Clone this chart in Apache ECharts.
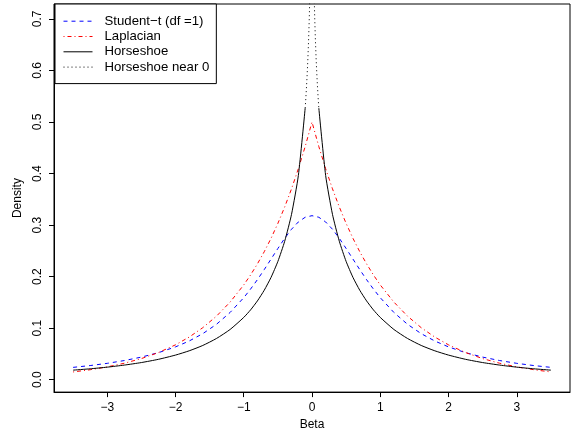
<!DOCTYPE html>
<html>
<head>
<meta charset="utf-8">
<script src="https://cdn.jsdelivr.net/npm/echarts@6/dist/echarts.min.js"></script>
<style>html,body{margin:0;padding:0;background:#fff}#c{width:574px;height:436px}</style>
</head>
<body>
<div id="c"></div>
<script>
// Beta values (shared x positions)
const betaX = [-3.5,-3.25,-3,-2.75,-2.5,-2.25,-2,-1.8,-1.6,-1.4,-1.2,-1,-0.9,-0.8,-0.7,-0.6,-0.5,-0.4,-0.3,-0.2,-0.1,0,
  0.1,0.2,0.3,0.4,0.5,0.6,0.7,0.8,0.9,1,1.2,1.4,1.6,1.8,2,2.25,2.5,2.75,3,3.25,3.5];
// Student-t (df = 1) density
const studentT = [0.0240,0.0275,0.0318,0.0372,0.0439,0.0525,0.0637,0.0751,0.0894,0.1075,0.1305,0.1592,0.1759,0.1941,0.2136,0.2341,0.2546,0.2744,0.2920,0.3061,0.3152,0.3183,
  0.3152,0.3061,0.2920,0.2744,0.2546,0.2341,0.2136,0.1941,0.1759,0.1592,0.1305,0.1075,0.0894,0.0751,0.0637,0.0525,0.0439,0.0372,0.0318,0.0275,0.0240];
// Laplacian density
const laplacian = [0.0151,0.0194,0.0249,0.0320,0.0410,0.0527,0.0677,0.0827,0.1010,0.1233,0.1506,0.1839,0.2033,0.2247,0.2483,0.2744,0.3033,0.3352,0.3704,0.4094,0.4524,0.5000,
  0.4524,0.4094,0.3704,0.3352,0.3033,0.2744,0.2483,0.2247,0.2033,0.1839,0.1506,0.1233,0.1010,0.0827,0.0677,0.0527,0.0410,0.0320,0.0249,0.0194,0.0151];
// Horseshoe density (gap at 0)
const horseshoe = [0.0186,0.0212,0.0244,0.0284,0.0333,0.0396,0.0478,0.0561,0.0665,0.0800,0.0975,0.1209,0.1355,0.1529,0.1736,0.1986,0.2295,0.2687,0.3209,0.3962,0.5270,'-',
  0.5270,0.3962,0.3209,0.2687,0.2295,0.1986,0.1736,0.1529,0.1355,0.1209,0.0975,0.0800,0.0665,0.0561,0.0478,0.0396,0.0333,0.0284,0.0244,0.0212,0.0186];
// Horseshoe near 0
const nearX = [-0.1,-0.09,-0.08,-0.07,-0.06,-0.05,-0.04,-0.03,-0.02,0,0.02,0.03,0.04,0.05,0.06,0.07,0.08,0.09,0.1];
const nearY = [0.5270,0.5470,0.5694,0.5948,0.6241,0.6588,0.7012,0.7560,0.8332,'-',0.8332,0.7560,0.7012,0.6588,0.6241,0.5948,0.5694,0.5470,0.5270];

const xTicks = [-3,-2,-1,0,1,2,3];
const xTickLabels = ['\u22123','\u22122','\u22121','0','1','2','3'];
const yTicks = [0,0.1,0.2,0.3,0.4,0.5,0.6,0.7];
const yTickLabels = ['0.0','0.1','0.2','0.3','0.4','0.5','0.6','0.7'];
const seriesNames = ['Student\u2212t (df =1)','Laplacian','Horseshoe','Horseshoe near 0'];
const seriesColors = ['#0000ff', '#ff0000', '#000000', '#000000'];
const seriesDash = [[4, 4], [1, 3, 4, 3], 'solid', [1, 3]];

const font = 'Liberation Sans, Arial, Helvetica, sans-serif';
const zip = (xs, ys) => xs.map((x, i) => [x, ys[i]]);
const style = i => ({color: seriesColors[i], width: 1, type: seriesDash[i]});

const chart = echarts.init(document.getElementById('c'), null, {renderer: 'canvas'});
chart.setOption({
  animation: false,
  backgroundColor: '#fff',
  textStyle: {fontFamily: font},
  grid: {left: 54, right: 4, top: 4, bottom: 42, show: true, borderColor: '#000', borderWidth: 1, backgroundColor: 'transparent'},
  legend: {
    data: seriesNames.map((n, i) => ({name: n, lineStyle: style(i), itemStyle: {opacity: 0, color: seriesColors[i], borderWidth: 0}})),
    orient: 'vertical', left: 55, top: 4,
    itemWidth: 29, itemHeight: 14, itemGap: 2.3,
    padding: [10.7, 7, 10, 8],
    borderColor: '#000', borderWidth: 1, borderRadius: 0,
    backgroundColor: '#fff',
    selectedMode: false,
    itemStyle: {opacity: 0, borderWidth: 0},
    lineStyle: {width: 1},
    textStyle: {fontSize: 13.2, color: '#000', fontFamily: font, padding: [0, 0, 0, 7]}
  },
  xAxis: {
    type: 'value', min: -3.78, max: 3.78,
    splitLine: {show: false},
    axisLine: {show: true, onZero: false, lineStyle: {color: '#000', width: 1}},
    axisTick: {show: true, length: 5, customValues: xTicks, lineStyle: {color: '#000'}},
    axisLabel: {customValues: xTicks, margin: 10, fontSize: 12, color: '#000', fontFamily: font,
      formatter: v => xTickLabels[xTicks.indexOf(Math.round(v))]},
    name: 'Beta', nameLocation: 'middle', nameGap: 26,
    nameTextStyle: {fontSize: 12, color: '#000', fontFamily: font}
  },
  yAxis: {
    type: 'value', min: -0.024, max: 0.729,
    splitLine: {show: false},
    axisLine: {show: true, onZero: false, lineStyle: {color: '#000', width: 1}},
    axisTick: {show: true, length: 5, customValues: yTicks, lineStyle: {color: '#000'}},
    axisLabel: {customValues: yTicks, rotate: 90, margin: 10, fontSize: 12, color: '#000', fontFamily: font,
      formatter: v => yTickLabels[Math.round(v * 10)]},
    name: 'Density', nameLocation: 'middle', nameGap: 27,
    nameTextStyle: {fontSize: 12, color: '#000', fontFamily: font}
  },
  series: [
    {name: seriesNames[0], type: 'line', data: zip(betaX, studentT), showSymbol: false, symbol: 'none',
      lineStyle: style(0), itemStyle: {color: seriesColors[0]}},
    {name: seriesNames[1], type: 'line', data: zip(betaX, laplacian), showSymbol: false, symbol: 'none',
      lineStyle: style(1), itemStyle: {color: seriesColors[1]}},
    {name: seriesNames[2], type: 'line', data: zip(betaX, horseshoe), showSymbol: false, symbol: 'none', smooth: 0.2,
      lineStyle: style(2), itemStyle: {color: seriesColors[2]}},
    {name: seriesNames[3], type: 'line', data: zip(nearX, nearY), showSymbol: false, symbol: 'none', clip: true,
      lineStyle: style(3), itemStyle: {color: seriesColors[3]}}
  ]
});
</script>
</body>
</html>
